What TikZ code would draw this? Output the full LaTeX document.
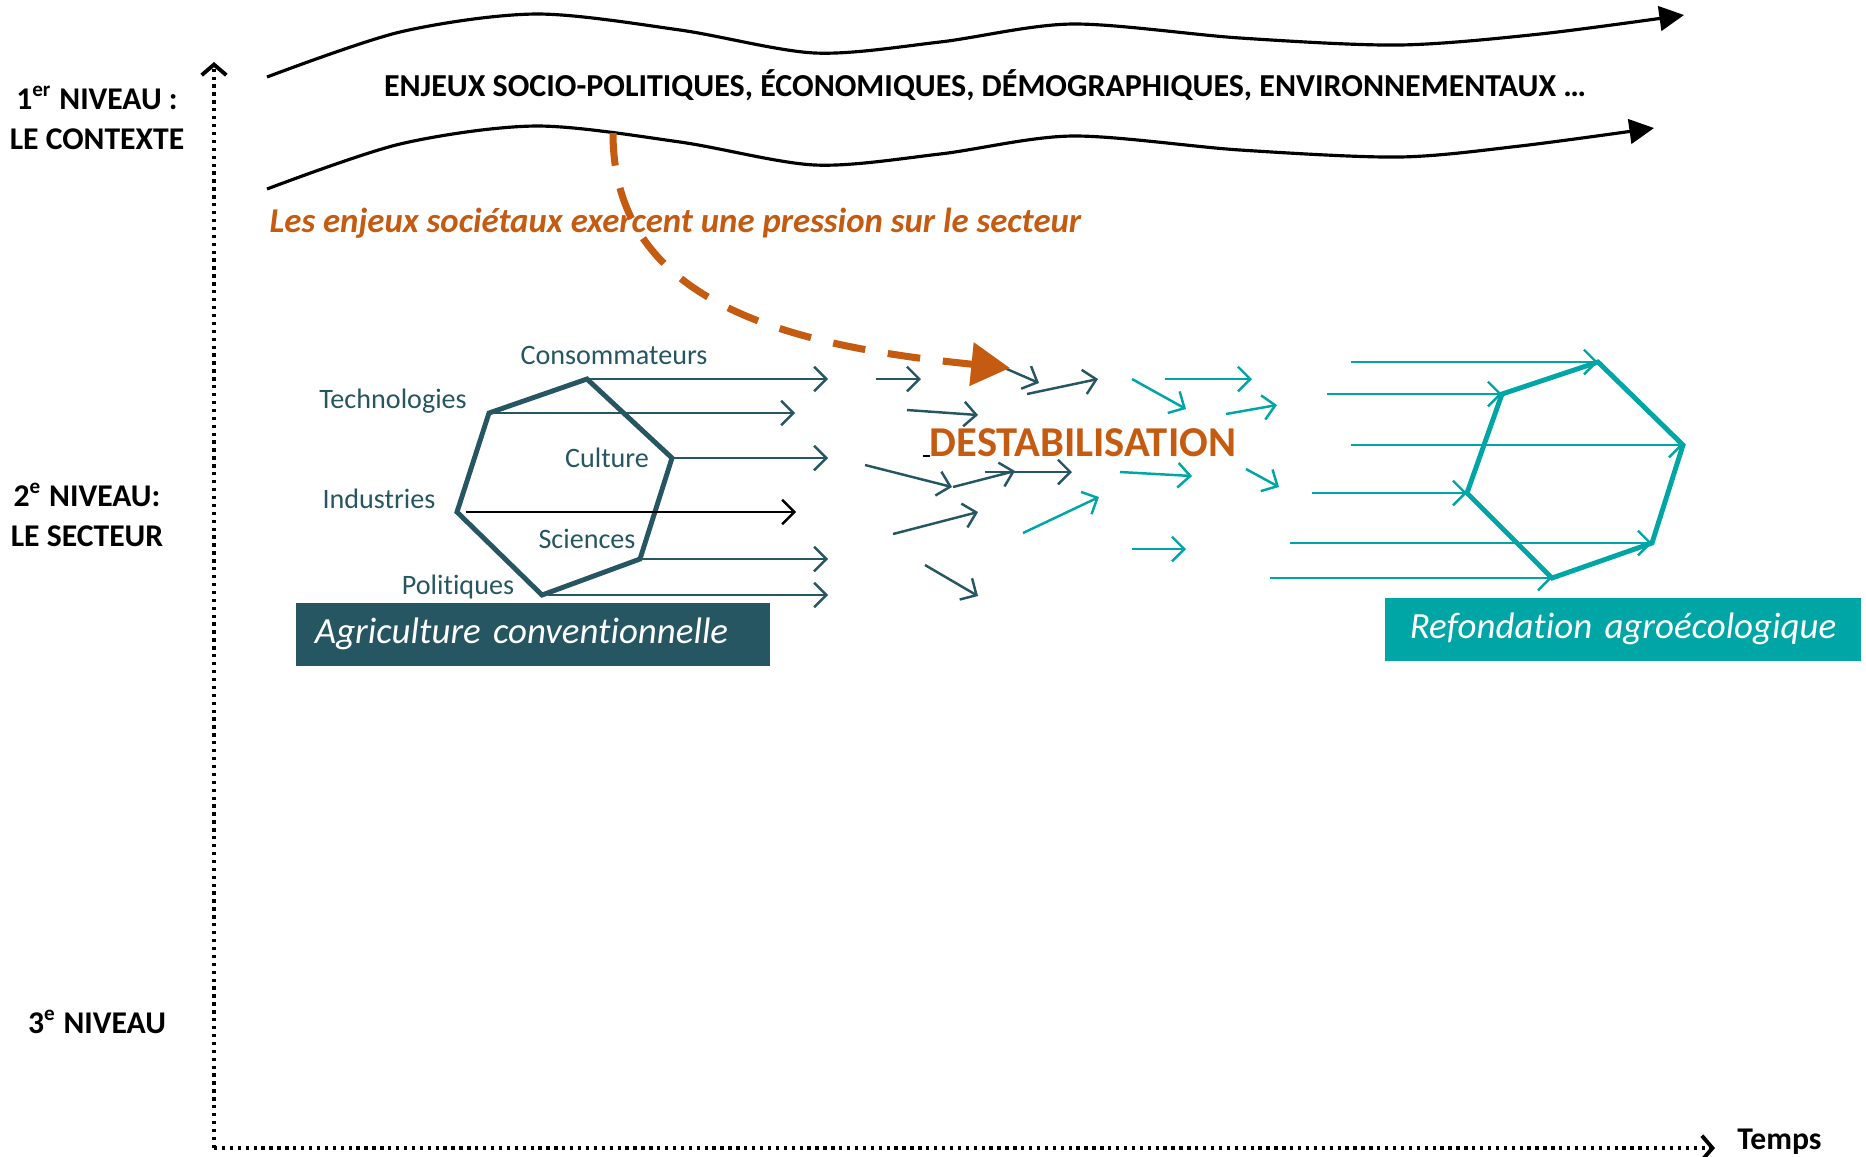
\documentclass[tikz,border=0pt]{standalone}
\usepackage{fontspec}
\setmainfont{Carlito}[Ligatures=NoCommon]
\usetikzlibrary{arrows.meta,positioning}
\definecolor{petrol}{RGB}{38,86,97}
\definecolor{lagoon}{RGB}{0,166,166}
\definecolor{rust}{RGB}{197,90,17}
\tikzset{
  axis/.style={line width=0.95pt, dash pattern=on 0.95pt off 1.3pt, -{Straight Barb[length=3pt,width=7pt,line width=1.1pt]}},
  wave/.style={line width=0.9pt, -{Triangle[length=7pt,width=7pt]}},
  pressure/.style={rust, line width=2pt, dash pattern=on 9.3pt off 6.5pt, -{Triangle[length=11pt,width=12pt]}},
  flowdark/.style={petrol, line width=0.7pt, -{Straight Barb[length=3.5pt,width=7pt]}},
  flowteal/.style={lagoon, line width=0.7pt, -{Straight Barb[length=3.5pt,width=7pt]}},
  hexline/.style={line width=1.4pt, line join=miter},
  levelname/.style={font=\bfseries\fontsize{9}{11.4}\selectfont, align=center},
  actor/.style={petrol, font=\fontsize{8}{9.5}\selectfont},
  banner/.style={text=white, font=\itshape\fontsize{10.5}{12}\selectfont, minimum height=0.63cm, inner xsep=0.19cm}
}
\begin{document}
\begin{tikzpicture}[x=0.01cm,y=-0.01cm]
\useasboundingbox (0,0) rectangle (1866,1156);
% axes
\coordinate (origin) at (214,1148);
\coordinate (ytop) at (214,62);
\coordinate (xend) at (1715,1148);
\draw[axis] (origin) -- (ytop);
\draw[axis] (origin) -- (xend);
\node[levelname, right=0.1cm of xend, yshift=0.06cm] (time) {Temps};
\node[levelname] (lvl1) at (97,118) {1\textsuperscript{er} NIVEAU :\\LE CONTEXTE};
\node[levelname] (lvl2) at (87,515) {2\textsuperscript{e} NIVEAU:\\LE SECTEUR};
\node[levelname] (lvl3) at (97,1022) {3\textsuperscript{e} NIVEAU};
% context
\draw[wave] plot[smooth] coordinates {(267,77) (400,32) (536,14) (680,30) (815,53) (940,42) (1072,24) (1240,38) (1399,45) (1540,34) (1684,15)};
\draw[wave] plot[smooth] coordinates {(267,189) (400,144) (536,126) (680,142) (815,165) (940,154) (1072,136) (1240,150) (1399,157) (1520,146) (1654,128)};
\node[font=\bfseries\fontsize{9.1}{10}\selectfont] (issues) at (985,85) {ENJEUX SOCIO-POLITIQUES, ÉCONOMIQUES, DÉMOGRAPHIQUES, ENVIRONNEMENTAUX …};
% left regime
\coordinate (lt) at (587,379);
\coordinate (lul) at (489,413);
\coordinate (ll) at (457,512);
\coordinate (lb) at (542,595);
\coordinate (llr) at (640,559);
\coordinate (lr) at (672,458);
\draw[petrol, hexline] (lt) -- (lul) -- (ll) -- (lb) -- (llr) -- (lr) -- cycle;
\draw[flowdark] (lt) -- ([xshift=2.41cm] lt);
\draw[flowdark] (lul) -- ([xshift=3.06cm] lul);
\draw[flowdark] (lr) -- ([xshift=1.56cm] lr);
\draw[flowdark, black] ([xshift=0.09cm] ll) -- ([xshift=3.39cm] ll);
\draw[flowdark] (llr) -- ([xshift=1.88cm] llr);
\draw[flowdark] ([xshift=0.06cm] lb) -- ([xshift=2.86cm] lb);
\node[actor] (consumers) at (614,355) {Consommateurs};
\node[actor] (techno) at (393,401) {Technologies};
\node[actor] (culture) at (607,458) {Culture};
\node[actor] (industry) at (379,499) {Industries};
\node[actor] (science) at (587,539) {Sciences};
\node[actor] (policy) at (458,587) {Politiques};
\node[banner, fill=petrol, text width=4.36cm, align=left] (conv) at (533,634) {Agriculture conventionnelle};
% destabilisation
\foreach \xa/\ya/\xb/\yb in {876/379/921/379, 907/410/978/415, 1000/366/1039/383, 1027/394/1098/379,
  865/465/952/487, 953/487/1015/471, 985/472/1072/472, 893/534/978/512, 925/565/978/596}
  \draw[flowdark] (\xa,\ya) -- (\xb,\yb);
\foreach \xa/\ya/\xb/\yb in {1132/379/1186/409, 1165/379/1252/379, 1226/414/1277/405, 1120/472/1192/476,
  1246/469/1279/487, 1023/533/1099/497, 1132/549/1186/549}
  \draw[flowteal] (\xa,\ya) -- (\xb,\yb);
\draw[line width=0.6pt] (923,456) -- (930,456);
\node[rust, font=\bfseries\fontsize{12.1}{14}\selectfont] (destab) at (1083,443) {DESTABILISATION};
% pressure
\coordinate (push) at (613,133);
\coordinate (hit) at (1010,368);
\draw[pressure] (push) .. controls (613,300) and (780,345) .. (hit);
\node[rust, anchor=west, inner sep=0pt, font=\bfseries\itshape\fontsize{9.9}{11}\selectfont] (claim) at (269,223) {Les enjeux sociétaux exercent une pression sur le secteur};
% new regime
\coordinate (rt) at (1598,362);
\coordinate (rul) at (1502,394);
\coordinate (rl) at (1467,493);
\coordinate (rb) at (1552,578);
\coordinate (rlr) at (1652,543);
\coordinate (rr) at (1683,445);
\draw[lagoon, hexline] (rt) -- (rul) -- (rl) -- (rb) -- (rlr) -- (rr) -- cycle;
\draw[flowteal] ([xshift=-2.47cm] rt) -- (rt);
\draw[flowteal] ([xshift=-1.75cm] rul) -- (rul);
\draw[flowteal] ([xshift=-3.32cm] rr) -- (rr);
\draw[flowteal] ([xshift=-1.55cm] rl) -- (rl);
\draw[flowteal] ([xshift=-3.62cm] rlr) -- (rlr);
\draw[flowteal] ([xshift=-2.82cm] rb) -- (rb);
\node[banner, fill=lagoon, text width=4.37cm, align=center] (agroeco) at (1623,629) {Refondation agroécologique};
\end{tikzpicture}
\end{document}
